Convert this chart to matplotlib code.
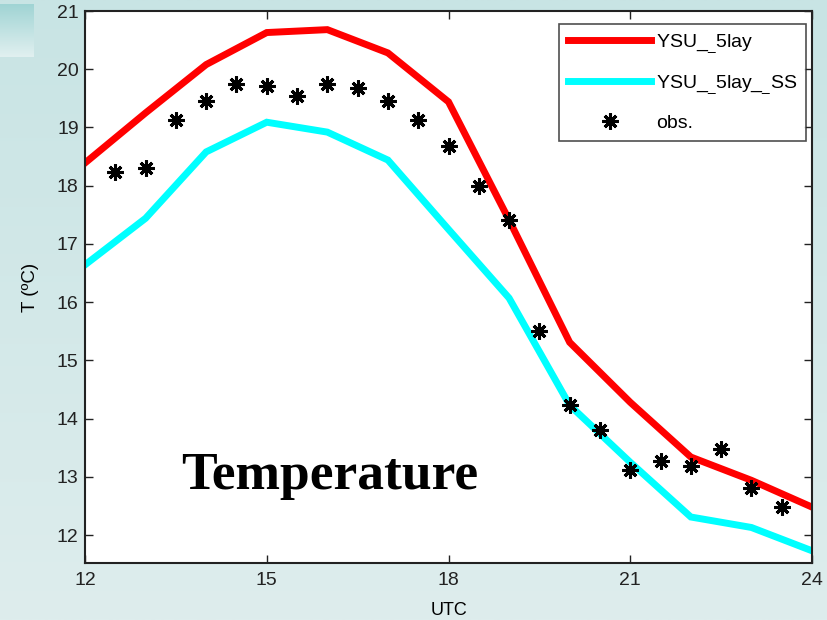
import numpy as np
import matplotlib
matplotlib.use("Agg")
import matplotlib.pyplot as plt

plt.rcParams['font.family'] = ['Liberation Sans', 'DejaVu Sans']
plt.rcParams['mathtext.fontset'] = 'custom'
plt.rcParams['mathtext.rm'] = 'Liberation Sans'
plt.rcParams['mathtext.it'] = 'Liberation Sans'

hours = [12, 13, 14, 15, 16, 17, 18, 19, 20, 21, 22, 23, 24]
ysu_5lay = [18.39, 19.25, 20.08, 20.63, 20.68, 20.28, 19.44, 17.41, 15.31, 14.28, 13.34, 12.94, 12.48]
ysu_5lay_ss = [16.64, 17.44, 18.58, 19.09, 18.92, 18.44, 17.25, 16.07, 14.23, 13.25, 12.31, 12.13, 11.73]

obs_hours = [12.5, 13, 13.5, 14, 14.5, 15, 15.5, 16, 16.5, 17, 17.5, 18, 18.5, 19, 19.5,
             20, 20.5, 21, 21.5, 22, 22.5, 23, 23.5]
obs = [18.23, 18.30, 19.13, 19.45, 19.75, 19.71, 19.54, 19.75, 19.68, 19.45, 19.13, 18.68,
       17.99, 17.41, 15.50, 14.23, 13.80, 13.11, 13.27, 13.18, 13.47, 12.80, 12.49]

xticks = [12, 15, 18, 21, 24]
yticks = [12, 13, 14, 15, 16, 17, 18, 19, 20, 21]

fig = plt.figure(figsize=(8.27, 6.2), dpi=100)

# background gradient
bg = fig.add_axes([0, 0, 1, 1], zorder=-10)
grad = np.linspace(0, 1, 256).reshape(-1, 1)
top = np.array([200, 228, 228]) / 255
bot = np.array([222, 237, 237]) / 255
img = top[None, None, :] * (1 - grad[:, :, None]) + bot[None, None, :] * grad[:, :, None]
bg.imshow(img, aspect='auto', extent=[0, 1, 0, 1])
# top-left square
sq = np.linspace(0, 1, 128).reshape(-1, 1)
c1 = np.array([160, 212, 212]) / 255
c2 = np.array([225, 240, 240]) / 255
simg = c1[None, None, :] * (1 - sq[:, :, None]) + c2[None, None, :] * sq[:, :, None]
bg.imshow(simg, aspect='auto', extent=[0, 34 / 827, 1 - 57 / 620, 1 - 4 / 620])
bg.set_xlim(0, 1)
bg.set_ylim(0, 1)
bg.axis('off')

ax = fig.add_axes([85 / 827, 1 - 563 / 620, (812 - 85) / 827, (563 - 11) / 620])
ax.plot(hours, ysu_5lay, color='#ff0000', lw=5, label='YSU_$_{\\_}$5lay', solid_joinstyle='miter')
ax.plot(hours, ysu_5lay_ss, color='#00ffff', lw=5, label='YSU_$_{\\_}$5lay_$_{\\_}$SS', solid_joinstyle='miter')
ax.plot(obs_hours, obs, linestyle='none', marker=(8, 2, 0), ms=11.5, mew=2.2,
        color='black', label='obs.')

ax.set_xlim(12, 24)
ax.set_ylim(11.52, 21)
ax.set_xticks(xticks)
ax.set_yticks(yticks)
ax.tick_params(direction='in', length=6, width=1, top=True, right=True,
               labelsize=14, colors='#222222')
ax.tick_params(axis='y', pad=4.5)
ax.tick_params(axis='x', pad=6.5)
for s in ax.spines.values():
    s.set_linewidth(1.5)
    s.set_color('#222222')
ax.set_xlabel('UTC', fontsize=13, labelpad=9)
ax.set_ylabel('T (ºC)', fontsize=13.5, labelpad=13)

leg = ax.legend(loc='upper right', bbox_to_anchor=(0.992, 0.977), fontsize=14,
                frameon=True, fancybox=False, edgecolor='#222222', handlelength=4.3,
                borderpad=0.45, labelspacing=0.95, handletextpad=0.25, borderaxespad=0)
leg.get_frame().set_linewidth(1.2)

fig.text(330 / 827, 1 - 476 / 620, 'Temperature', family='Liberation Serif',
         fontweight='bold', fontsize=38.5, ha='center', va='center')

fig.savefig('out.png', dpi=100)
